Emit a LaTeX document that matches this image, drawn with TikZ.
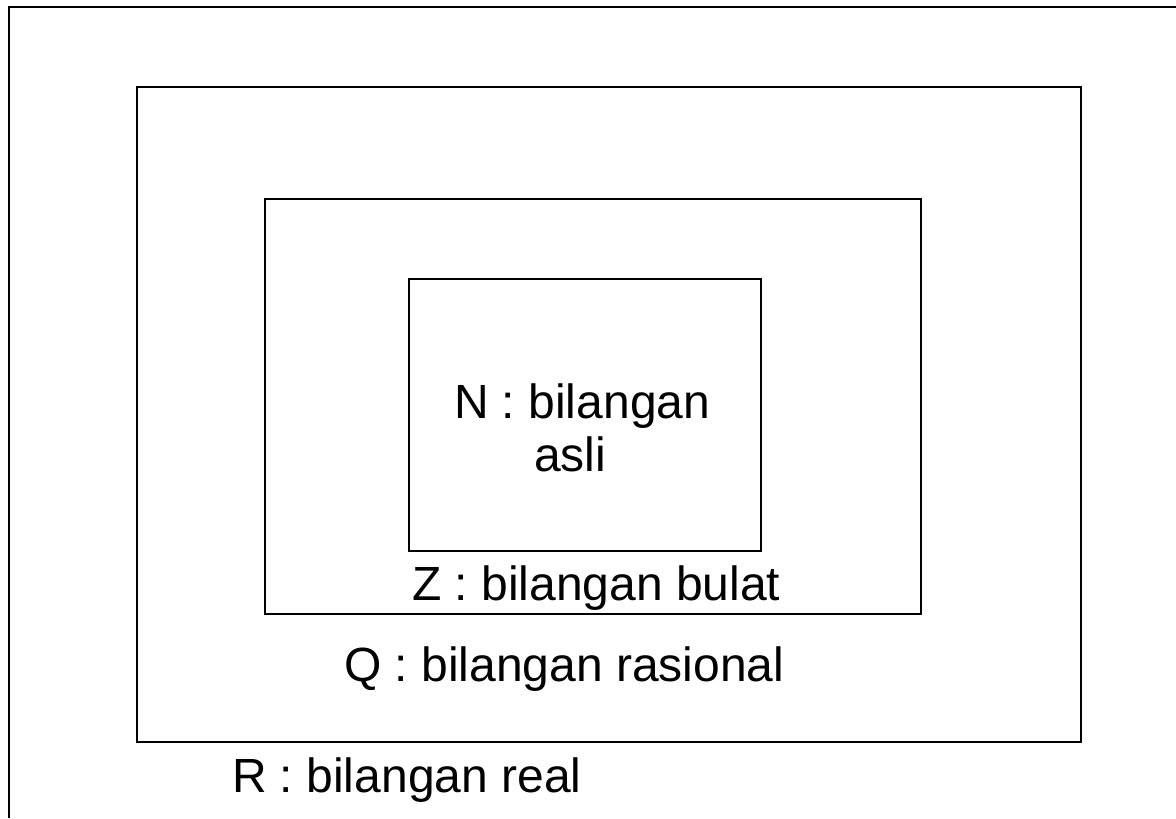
\documentclass[tikz,border=0pt]{standalone}
\usepackage{fontspec}
\setmainfont{Liberation Sans}
\tikzset{every path/.style={black, line width=1.5pt}, every node/.style={font=\fontsize{36}{40}\selectfont, inner sep=0pt, anchor=base west}}

\begin{document}
\begin{tikzpicture}[x=0.75pt,y=-0.75pt]
  \useasboundingbox (0,0) rectangle (1176,818);
  % R, Q, Z, N
  \draw (9,818) -- (9,7) -- (1176,7);
  \draw (137,87) rectangle (1081,742);
  \draw (265,199) rectangle (921,614);
  \draw (409,279) rectangle (761,551);
  \node (nlab) at (453,418) {N : bilangan};
  \node (nasli) at (533,471) {asli};
  \node (zlab) at (411,600) {Z : bilangan bulat};
  \node (qlab) at (343,681) {Q : bilangan rasional};
  \node (rlab) at (231,792) {R : bilangan real};
\end{tikzpicture}
\end{document}
